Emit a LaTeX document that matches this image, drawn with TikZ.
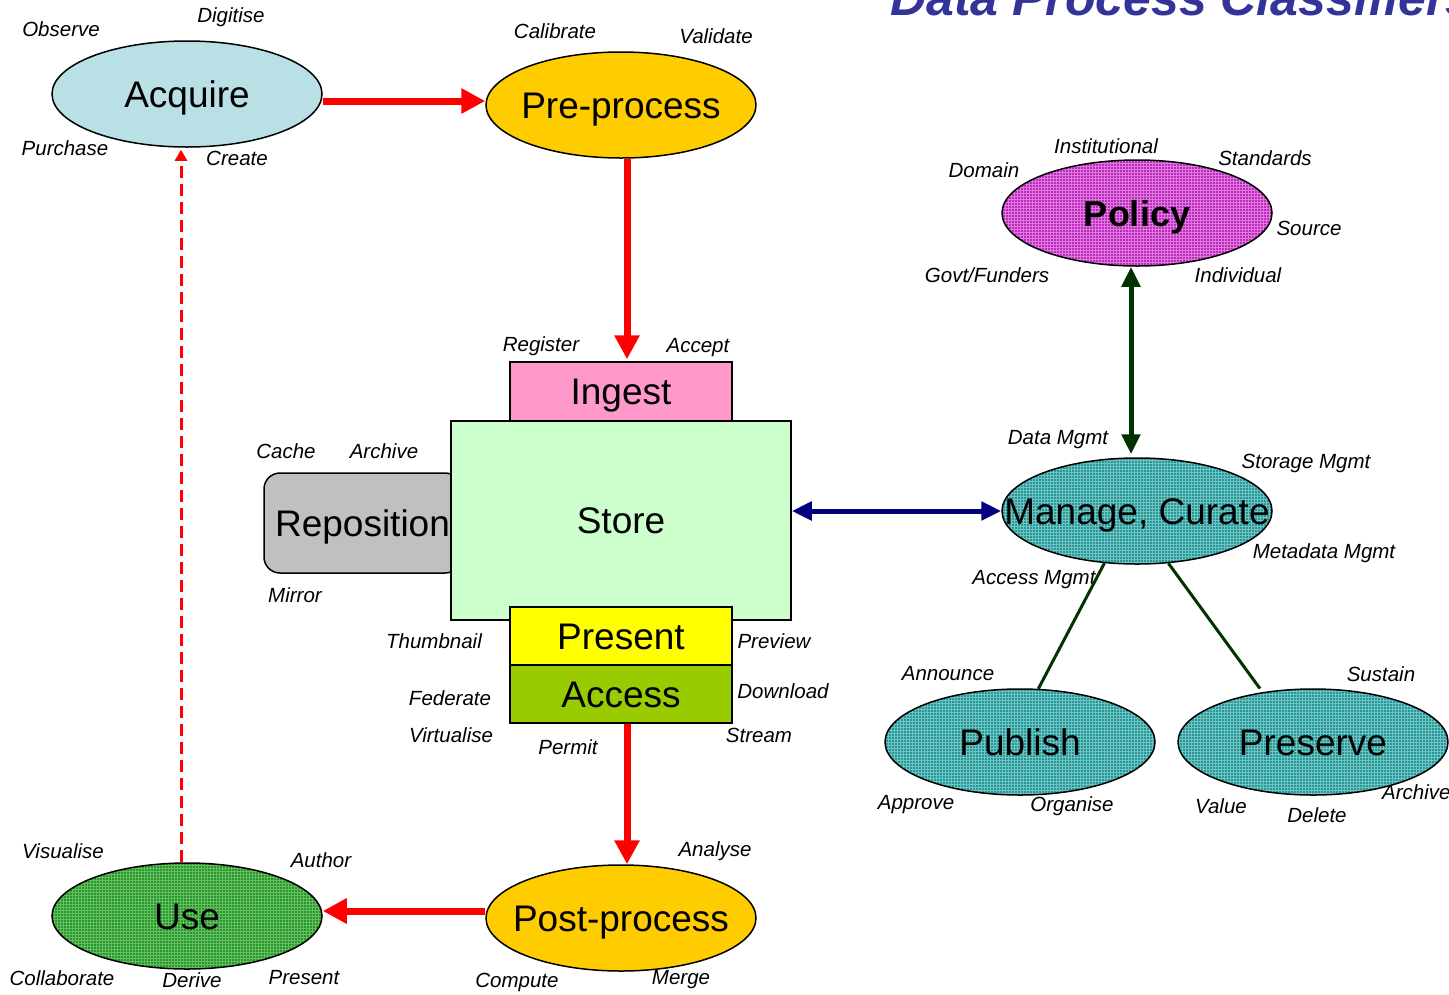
\documentclass[tikz,border=0pt]{standalone}
\usepackage{fontspec}
\setmainfont{Liberation Sans}
\usepackage{tikz}
\usetikzlibrary{arrows.meta,shapes.geometric,patterns}
\definecolor{acqblue}{RGB}{185,224,228}
\definecolor{procorange}{RGB}{255,204,0}
\definecolor{ingestpink}{RGB}{255,153,204}
\definecolor{storegreen}{RGB}{204,255,204}
\definecolor{repogray}{RGB}{192,192,192}
\definecolor{presyellow}{RGB}{255,255,0}
\definecolor{accgreen}{RGB}{153,204,0}
\definecolor{polpurple}{RGB}{185,45,185}
\definecolor{polgrid}{RGB}{225,120,225}
\definecolor{curteal}{RGB}{40,150,150}
\definecolor{curgrid}{RGB}{110,195,195}
\definecolor{usegreen}{RGB}{40,150,40}
\definecolor{usegrid}{RGB}{100,190,100}
\definecolor{navyarrow}{RGB}{0,0,128}
\definecolor{darkgreen}{RGB}{0,51,0}
\definecolor{titleblue}{RGB}{51,51,153}
\newcommand{\inlbl}[1]{\makebox[0pt]{#1}}

\begin{document}
\begin{tikzpicture}[x=1pt,y=-1pt,
  lab/.style={font=\fontsize{20.5}{22}\selectfont\itshape,inner sep=0},
  proc/.style={ellipse,draw,line width=1.5pt,minimum width=270pt,minimum height=106pt,inner sep=0,text height=26pt,text depth=0pt,font=\fontsize{37}{40}\selectfont},
  blk/.style={rectangle,draw,line width=1.5pt,inner sep=0,text height=26pt,text depth=0pt,font=\fontsize{37}{40}\selectfont},
  flow/.style={draw=red,line width=7pt,-{Triangle[width=24pt,length=24pt]}}]
\useasboundingbox (0,0) rectangle (1449,994);
\clip (0,0) rectangle (1449,994);
%title, cut off at the top
\node[anchor=base west,inner sep=0,text=titleblue,font=\fontsize{50}{54}\selectfont\bfseries\itshape] (title) at (890,15) {Data Process Classifiers};
%acquire and pre-process
\node[proc,fill=acqblue] (acquire) at (187,94) {\inlbl{Acquire}};
\node[proc,fill=procorange] (pre) at (621,105) {\inlbl{Pre-process}};
\node[lab] (observe) at (61,29) {Observe}; \node[lab] (digitise) at (231,17) {Digitise};
\node[lab] (purchase) at (65,148) {Purchase}; \node[lab] (create) at (237,158) {Create};
\node[lab] (calibrate) at (555,31) {Calibrate}; \node[lab] (validate) at (716,36) {Validate};
%policy
\node[proc,preaction={fill=polpurple},pattern=grid,pattern color=polgrid,font=\fontsize{36}{40}\selectfont\bfseries] (policy) at (1137,213) {\inlbl{Policy}};
\node[lab] (institutional) at (1106,146) {Institutional}; \node[lab] (domain) at (984,170) {Domain};
\node[lab] (standards) at (1265,158) {Standards}; \node[lab] (source) at (1309,228) {Source};
\node[lab] (govt) at (987,275) {Govt/Funders}; \node[lab] (individual) at (1238,275) {Individual};
%store with ingest, present, access and reposition
\node[blk,rounded corners=16pt,fill=repogray,minimum width=197pt,minimum height=100pt] (repo) at (362.5,523) {\inlbl{Reposition}};
\node[blk,fill=storegreen,minimum width=340pt,minimum height=199pt] (store) at (621,520.5) {Store};
\node[blk,fill=ingestpink,minimum width=222pt,minimum height=59pt] (ingest) at (621,391.5) {Ingest};
\node[blk,fill=presyellow,minimum width=222pt,minimum height=58pt] (present) at (621,636) {Present};
\node[blk,fill=accgreen,minimum width=222pt,minimum height=58pt] (access) at (621,694) {Access};
\node[lab] (register) at (541,346) {Register}; \node[lab] (accept) at (698,348) {Accept};
\node[lab] (cache) at (286,451) {Cache}; \node[lab] (archive) at (384,451) {Archive};
\node[lab] (mirror) at (295,595) {Mirror};
\node[lab] (thumbnail) at (434,641) {Thumbnail}; \node[lab] (preview) at (774,641) {Preview};
\node[lab] (federate) at (450,698) {Federate}; \node[lab] (download) at (783,691) {Download};
\node[lab] (virtualise) at (451,735) {Virtualise}; \node[lab] (permit) at (568,747) {Permit};
\node[lab] (stream) at (759,735) {Stream};
%manage, publish, preserve
\node[proc,preaction={fill=curteal},pattern=grid,pattern color=curgrid] (manage) at (1137,511) {\inlbl{Manage, Curate}};
\node[proc,preaction={fill=curteal},pattern=grid,pattern color=curgrid] (publish) at (1020,742) {\inlbl{Publish}};
\node[proc,preaction={fill=curteal},pattern=grid,pattern color=curgrid] (preserve) at (1313,742) {\inlbl{Preserve}};
\node[lab] (datamgmt) at (1058,440) {Data Mgmt}; \node[lab] (storagemgmt) at (1306,463) {Storage Mgmt};
\node[lab] (metamgmt) at (1324,553) {Metadata Mgmt}; \node[lab] (accessmgmt) at (1034,580) {Access Mgmt};
\node[lab] (announce) at (948,674) {Announce}; \node[lab] (sustain) at (1381,674) {Sustain};
\node[lab] (approve) at (916,805) {Approve}; \node[lab] (organise) at (1072,806) {Organise};
\node[lab] (value) at (1221,806) {Value}; \node[lab] (delete) at (1317,815) {Delete};
\node[lab,anchor=west] (archive2) at (1382,792) {Archive};
%use and post-process
\node[proc,preaction={fill=usegreen},pattern=grid,pattern color=usegrid] (use) at (187,916) {\inlbl{Use}};
\node[proc,fill=procorange] (post) at (621,918) {\inlbl{Post-process}};
\node[lab] (visualise) at (63,851) {Visualise}; \node[lab] (author) at (321,860) {Author};
\node[lab] (collaborate) at (62,978) {Collaborate}; \node[lab] (derive) at (192,980) {Derive};
\node[lab] (present2) at (304,978) {Present};
\node[lab] (analyse) at (715,851) {Analyse}; \node[lab] (compute) at (517,982) {Compute};
\node[lab] (merge) at (681,980) {Merge};
%the data flow
\draw[flow] ([yshift=-7pt]acquire.east) -- ([yshift=4pt]pre.west);
\draw[flow] ([xshift=6pt]pre.south) -- ([xshift=6pt,yshift=2pt]ingest.north);
\draw[flow] ([xshift=6pt]access.south) -- ([xshift=6pt]post.north);
\draw[flow] ([yshift=7pt]post.west) -- ([yshift=5pt]use.east);
\draw[draw=red,line width=3pt,dash pattern=on 12pt off 6pt,-{Triangle[width=12pt,length=11pt]}] ([xshift=-6pt]use.north) -- ([xshift=-6pt,yshift=-2pt]acquire.south);
%management links
\draw[navyarrow,line width=5pt,{Triangle[width=18pt,length=20pt]}-{Triangle[width=18pt,length=20pt]}] (store.east |- manage.west) -- (manage.west);
\draw[darkgreen,line width=5pt,{Triangle[width=18pt,length=20pt]}-{Triangle[width=18pt,length=20pt]}] ([xshift=-6pt]policy.south) -- ([xshift=-6pt,yshift=3pt]manage.north);
\draw[darkgreen,line width=3pt] (manage.238) -- (publish.71);
\draw[darkgreen,line width=3pt] (manage.301) -- ([yshift=4pt]preserve.137);
\end{tikzpicture}
\end{document}
